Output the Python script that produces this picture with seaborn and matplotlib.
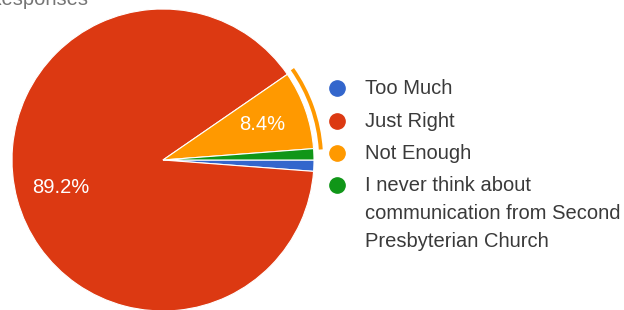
import matplotlib
matplotlib.use("Agg")
import matplotlib.pyplot as plt
import seaborn as sns
from matplotlib.patches import Wedge
from matplotlib.lines import Line2D

# data
labels = ["Too Much", "Just Right", "Not Enough",
          "I never think about\ncommunication from Second\nPresbyterian Church"]
shares = [1.2, 89.2, 8.4, 1.2]
colors = ["#3366CC", "#DC3912", "#FF9900", "#109618"]
highlighted = 2  # "Not Enough" is the selected slice

sns.set_theme(style="white")
plt.rcParams["font.family"] = ["Liberation Sans", "DejaVu Sans"]

W, H = 624, 310
fig = plt.figure(figsize=(W / 100, H / 100), dpi=100)

# pie: centre (163,160) px, radius 151 px
cx, cy, r = 163, 160, 151
half = 175
ax = fig.add_axes([(cx - half) / W, (H - cy - half) / H, 2 * half / W, 2 * half / H])

wedges, _, autotexts = ax.pie(
    shares, colors=colors, startangle=0, counterclock=False,
    autopct=lambda p: f"{p:.1f}%" if p > 5 else "", pctdistance=0.7,
    wedgeprops=dict(edgecolor="white", linewidth=0.8),
    textprops=dict(color="white", fontsize=14.5))

# pie() resets the limits, so set them afterwards
ax.set_xlim(-half / r, half / r)
ax.set_ylim(-half / r, half / r)
ax.set_aspect("equal")
ax.axis("off")

# selection ring around the highlighted slice
w = wedges[highlighted]
ax.add_patch(Wedge((0, 0), 1.06, w.theta1 - 0.5, w.theta2 + 0.5, width=0.026,
                   facecolor=colors[highlighted], edgecolor="none"))

# legend, drawn by hand so the marker sits on the first line
x_mark, x_text = 337, 365
y_rows = [88, 121, 153, 185]
for lab, col, y in zip(labels, colors, y_rows):
    fig.add_artist(Line2D([x_mark / W], [(H - y) / H], marker="o", markersize=11,
                          color=col, linestyle="none", transform=fig.transFigure))
    fig.text(x_text / W, (H - y + 9) / H, lab, fontsize=14.5, color="#3a3a3a",
             va="top", ha="left", linespacing=1.6)

# header text cut off at the top edge, as in the reference
fig.text(88 / W, (H - 5) / H, "Responses", fontsize=14.5, color="#757575",
         ha="right", va="baseline")

fig.savefig("out.png", dpi=100)
